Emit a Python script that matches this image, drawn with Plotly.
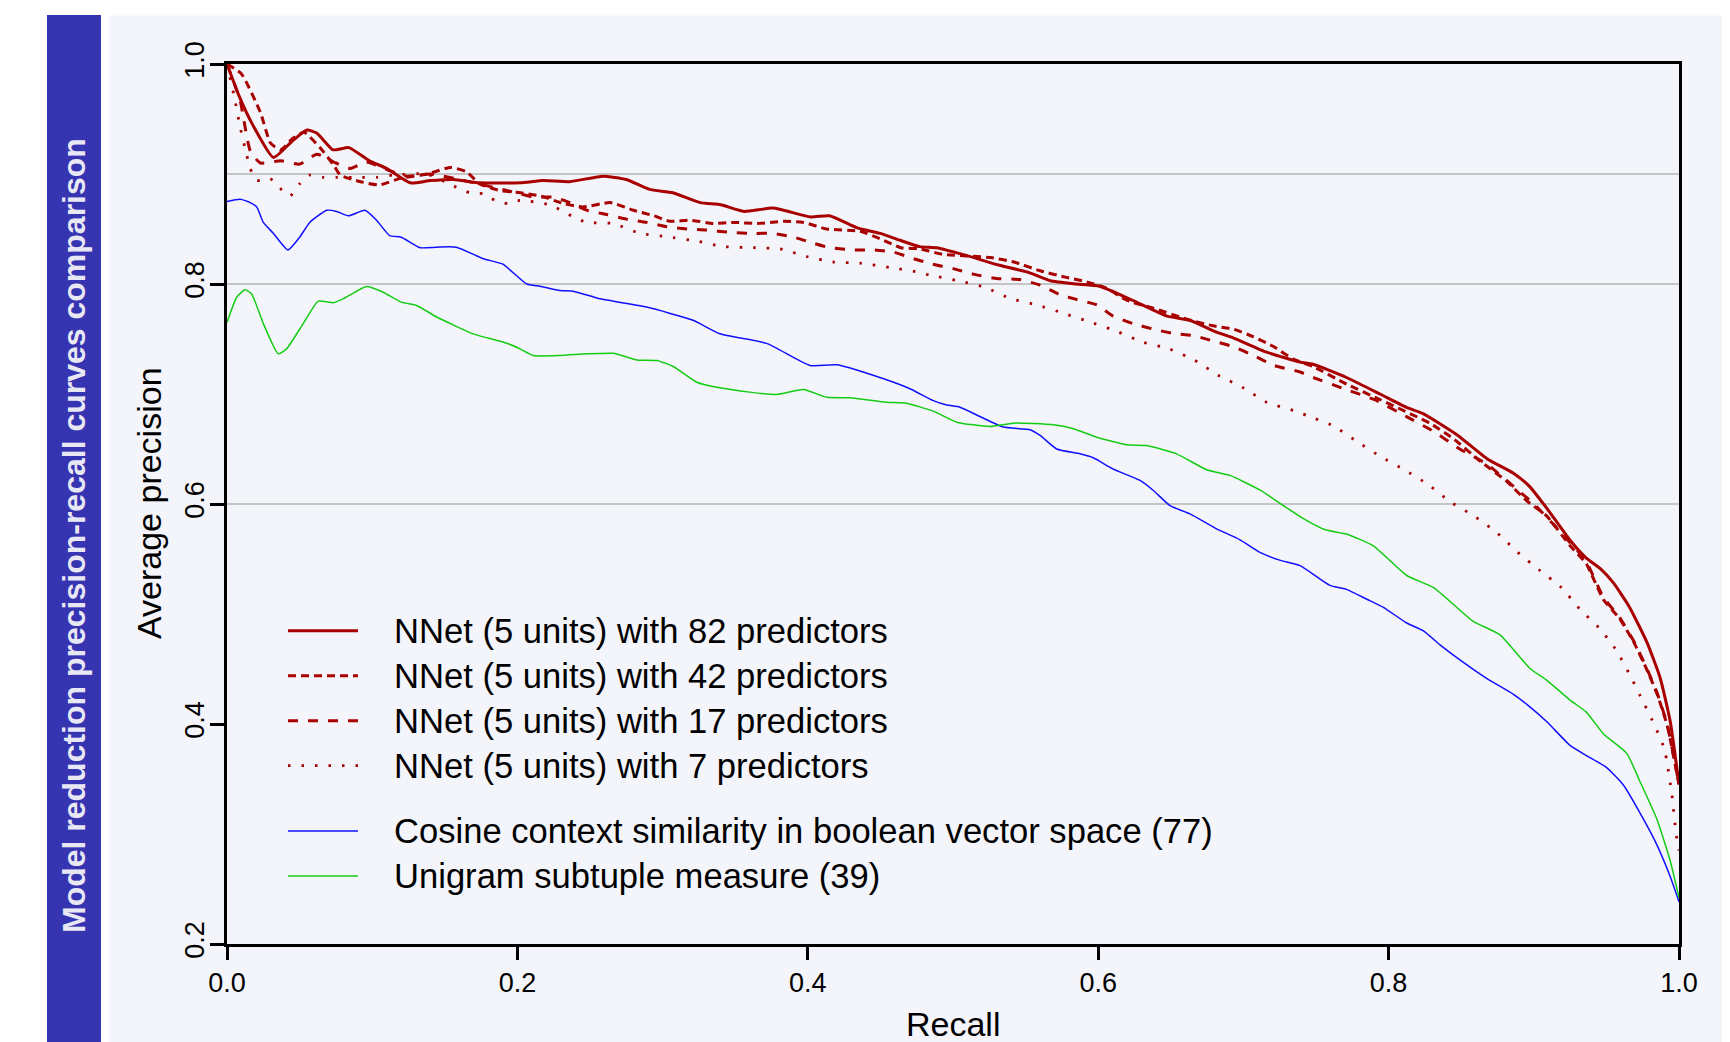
import plotly.graph_objects as go

# ---------------- data ----------------
recall_82 = [0.0, 0.008, 0.018, 0.032, 0.045, 0.055, 0.062, 0.073, 0.084, 0.098, 0.110, 0.126, 0.140, 0.156,
             0.174, 0.202, 0.218, 0.236, 0.259, 0.275, 0.291, 0.307, 0.326, 0.340, 0.356, 0.376, 0.402, 0.415,
             0.434, 0.450, 0.463, 0.477, 0.489, 0.509, 0.532, 0.551, 0.567, 0.585, 0.601, 0.624, 0.647, 0.663,
             0.682, 0.693, 0.716, 0.739, 0.748, 0.771, 0.794, 0.812, 0.824, 0.847, 0.868, 0.886, 0.897, 0.909,
             0.925, 0.936, 0.946, 0.955, 0.966, 0.978, 0.987, 0.994, 1.0]
prec_82 = [1.0, 0.972, 0.944, 0.915, 0.930, 0.940, 0.937, 0.922, 0.924, 0.912, 0.905, 0.892, 0.894, 0.895,
           0.892, 0.892, 0.894, 0.893, 0.898, 0.895, 0.886, 0.883, 0.874, 0.872, 0.866, 0.869, 0.861, 0.862,
           0.851, 0.846, 0.840, 0.834, 0.833, 0.826, 0.817, 0.811, 0.803, 0.800, 0.798, 0.785, 0.771, 0.767,
           0.756, 0.751, 0.738, 0.729, 0.727, 0.715, 0.700, 0.688, 0.682, 0.663, 0.641, 0.628, 0.616, 0.596,
           0.567, 0.551, 0.541, 0.528, 0.506, 0.474, 0.442, 0.402, 0.345]

recall_42 = [0.0, 0.010, 0.023, 0.030, 0.037, 0.045, 0.053, 0.064, 0.073, 0.078, 0.092, 0.105, 0.119, 0.138,
             0.154, 0.165, 0.174, 0.188, 0.202, 0.216, 0.232, 0.245, 0.264, 0.280, 0.294, 0.305, 0.319, 0.335,
             0.349, 0.365, 0.383, 0.397, 0.413, 0.436, 0.450, 0.464, 0.477, 0.493, 0.526, 0.542, 0.560, 0.578,
             0.592, 0.606, 0.620, 0.638, 0.661, 0.679, 0.693, 0.707, 0.721, 0.734, 0.748, 0.771, 0.794, 0.829,
             0.845, 0.863, 0.881, 0.895, 0.909, 0.925, 0.936, 0.948, 0.959, 0.969, 0.978, 0.985, 0.992, 1.0]
prec_42 = [1.0, 0.991, 0.956, 0.928, 0.922, 0.932, 0.938, 0.924, 0.909, 0.899, 0.893, 0.890, 0.896, 0.900,
           0.906, 0.902, 0.891, 0.885, 0.883, 0.880, 0.873, 0.870, 0.874, 0.867, 0.862, 0.857, 0.858, 0.855,
           0.856, 0.855, 0.857, 0.856, 0.850, 0.848, 0.841, 0.833, 0.832, 0.827, 0.824, 0.820, 0.812, 0.806,
           0.802, 0.796, 0.785, 0.778, 0.768, 0.762, 0.759, 0.752, 0.743, 0.732, 0.725, 0.709, 0.695, 0.673,
           0.659, 0.639, 0.621, 0.603, 0.589, 0.562, 0.546, 0.513, 0.496, 0.474, 0.449, 0.427, 0.398, 0.345]

recall_17 = [0.0, 0.009, 0.016, 0.023, 0.037, 0.050, 0.062, 0.075, 0.085, 0.096, 0.112, 0.124, 0.140, 0.160,
             0.180, 0.196, 0.211, 0.225, 0.236, 0.248, 0.262, 0.275, 0.289, 0.303, 0.317, 0.330, 0.346, 0.363,
             0.376, 0.392, 0.404, 0.415, 0.431, 0.445, 0.459, 0.473, 0.486, 0.500, 0.514, 0.530, 0.546, 0.560,
             0.574, 0.585, 0.599, 0.610, 0.624, 0.638, 0.652, 0.666, 0.677, 0.693, 0.707, 0.721, 0.739, 0.748,
             0.771, 0.790, 0.813, 0.831, 0.849, 0.868, 0.886, 0.900, 0.916, 0.927, 0.936, 0.948, 0.959, 0.969,
             0.978, 0.985, 0.992, 1.0]
prec_17 = [1.0, 0.967, 0.921, 0.910, 0.912, 0.909, 0.918, 0.910, 0.905, 0.911, 0.903, 0.898, 0.900, 0.895,
           0.889, 0.884, 0.879, 0.879, 0.874, 0.867, 0.863, 0.859, 0.856, 0.852, 0.850, 0.849, 0.847, 0.846,
           0.846, 0.842, 0.837, 0.833, 0.831, 0.831, 0.829, 0.823, 0.818, 0.814, 0.809, 0.805, 0.804, 0.799,
           0.790, 0.786, 0.781, 0.771, 0.764, 0.759, 0.755, 0.753, 0.749, 0.743, 0.735, 0.726, 0.720, 0.715,
           0.704, 0.695, 0.679, 0.666, 0.650, 0.636, 0.616, 0.600, 0.578, 0.562, 0.548, 0.515, 0.497, 0.475,
           0.450, 0.428, 0.399, 0.345]

recall_7 = [0.0, 0.0055, 0.009, 0.0136, 0.016, 0.0205, 0.0296, 0.0365, 0.0434, 0.050, 0.057, 0.066, 0.0755,
            0.090, 0.103, 0.1145, 0.1375, 0.158, 0.167, 0.1765, 0.1846, 0.1937, 0.2018, 0.2225, 0.2385, 0.2477,
            0.266, 0.2844, 0.3028, 0.3235, 0.3418, 0.3625, 0.381, 0.399, 0.4176, 0.436, 0.4566, 0.475, 0.484,
            0.5037, 0.522, 0.539, 0.5576, 0.577, 0.5955, 0.6127, 0.631, 0.649, 0.6667, 0.6827, 0.700, 0.716,
            0.7344, 0.7436, 0.762, 0.778, 0.794, 0.811, 0.8274, 0.843, 0.859, 0.8745, 0.889, 0.9038, 0.919,
            0.932, 0.9456, 0.957, 0.966, 0.9754, 0.9835, 0.990, 0.995, 0.998, 1.0]
prec_7 = [1.0, 0.967, 0.943, 0.917, 0.905, 0.894, 0.896, 0.887, 0.880, 0.891, 0.899, 0.897, 0.897,
          0.897, 0.897, 0.899, 0.900, 0.888, 0.883, 0.882, 0.876, 0.873, 0.876, 0.872, 0.861, 0.856,
          0.855, 0.846, 0.843, 0.839, 0.834, 0.833, 0.832, 0.825, 0.820, 0.819, 0.815, 0.811, 0.808,
          0.803, 0.797, 0.787, 0.781, 0.773, 0.765, 0.757, 0.747, 0.741, 0.7305, 0.717, 0.7056, 0.6925,
          0.685, 0.6805, 0.671, 0.657, 0.6435, 0.631, 0.6176, 0.6015, 0.589, 0.574, 0.556, 0.540, 0.524,
          0.504, 0.4865, 0.4667, 0.445, 0.420, 0.398, 0.377, 0.337, 0.300, 0.285]

recall_cos = [0.0, 0.009, 0.016, 0.0205, 0.025, 0.032, 0.042, 0.050, 0.057, 0.0687, 0.0755, 0.0836, 0.095,
              0.103, 0.112, 0.120, 0.133, 0.1444, 0.158, 0.1765, 0.190, 0.2064, 0.2156, 0.2293, 0.2385, 0.257,
              0.289, 0.321, 0.3395, 0.3717, 0.4015, 0.420, 0.445, 0.470, 0.4864, 0.4957, 0.5048, 0.5186,
              0.5347, 0.553, 0.560, 0.5714, 0.5875, 0.5966, 0.610, 0.6288, 0.638, 0.6494, 0.6632, 0.6816,
              0.6977, 0.7114, 0.725, 0.739, 0.7597, 0.771, 0.785, 0.7964, 0.8125, 0.824, 0.8354, 0.8515,
              0.8675, 0.886, 0.895, 0.909, 0.925, 0.936, 0.950, 0.9617, 0.973, 0.9846, 0.9938, 1.0]
prec_cos = [0.875, 0.877, 0.874, 0.870, 0.856, 0.846, 0.831, 0.8425, 0.856, 0.867, 0.866, 0.862, 0.867,
            0.858, 0.844, 0.8425, 0.833, 0.8335, 0.8335, 0.823, 0.818, 0.800, 0.798, 0.794, 0.7935, 0.7865,
            0.779, 0.767, 0.7547, 0.746, 0.726, 0.7265, 0.717, 0.705, 0.694, 0.690, 0.688, 0.6795,
            0.670, 0.6675, 0.6623, 0.650, 0.6456, 0.642, 0.632, 0.6214, 0.6123, 0.5986, 0.591, 0.5774,
            0.5674, 0.556, 0.549, 0.544, 0.526, 0.5224, 0.5134, 0.506, 0.4918, 0.4846, 0.472, 0.456,
            0.4415, 0.427, 0.418, 0.402, 0.3805, 0.3715, 0.3606, 0.3445, 0.3194, 0.2906, 0.2618, 0.2385]

recall_uni = [0.0, 0.0067, 0.0124, 0.017, 0.025, 0.0353, 0.041, 0.0525, 0.0629, 0.0732, 0.080, 0.0962, 0.1076,
              0.120, 0.1306, 0.1444, 0.1696, 0.1926, 0.2018, 0.211, 0.2293, 0.2477, 0.266, 0.282, 0.296,
              0.3074, 0.3235, 0.3395, 0.360, 0.3786, 0.397, 0.413, 0.429, 0.4543, 0.468, 0.4864, 0.5025,
              0.5255, 0.5415, 0.569, 0.583, 0.599, 0.6196, 0.6334, 0.654, 0.6747, 0.6907, 0.711, 0.7275,
              0.741, 0.757, 0.771, 0.7895, 0.8125, 0.831, 0.858, 0.8767, 0.8974, 0.909, 0.925, 0.936, 0.948,
              0.964, 0.973, 0.9846, 0.9938, 1.0]
prec_uni = [0.765, 0.788, 0.7947, 0.791, 0.764, 0.7365, 0.741, 0.764, 0.7844, 0.783, 0.7865, 0.7977, 0.7925,
            0.7835, 0.7805, 0.770, 0.7547, 0.7462, 0.741, 0.735, 0.735, 0.7365, 0.737, 0.731, 0.7305,
            0.725, 0.7107, 0.7056, 0.7017, 0.6995, 0.704, 0.697, 0.6965, 0.6925, 0.6916, 0.6844, 0.6744,
            0.6705, 0.6735, 0.672, 0.6684, 0.6607, 0.6538, 0.6532, 0.6456, 0.6311, 0.626, 0.613, 0.5986,
            0.587, 0.5763, 0.5727, 0.562, 0.535, 0.524, 0.4936, 0.4811, 0.4505, 0.4397, 0.4217, 0.411, 0.391,
            0.3733, 0.348, 0.314, 0.2763, 0.242]

series_names = ["NNet (5 units) with 82 predictors",
                "NNet (5 units) with 42 predictors",
                "NNet (5 units) with 17 predictors",
                "NNet (5 units) with 7 predictors",
                "Cosine context similarity in boolean vector space (77)",
                "Unigram subtuple measure (39)"]

x_ticks = [0.0, 0.2, 0.4, 0.6, 0.8, 1.0]
y_ticks = [0.2, 0.4, 0.6, 0.8, 1.0]
grid_levels = [0.6, 0.8, 0.9]

title_text = "Model reduction precision-recall curves comparison"
x_title = "Recall"
y_title = "Average precision"

# ---------------- styles ----------------
RED = "#a80000"
BLUE = "#1010ff"
GREEN = "#14cc14"
FONT = "Liberation Sans, Arial, Helvetica, sans-serif"

styles = [
    dict(color=RED, width=3.0, dash="solid"),
    dict(color=RED, width=3.0, dash="8px,5px"),
    dict(color=RED, width=3.0, dash="10px,10px"),
    dict(color=RED, width=2.8, dash="2.5px,11px"),
    dict(color=BLUE, width=1.5, dash="solid"),
    dict(color=GREEN, width=1.5, dash="solid"),
]

series = [(recall_82, prec_82), (recall_42, prec_42), (recall_17, prec_17),
          (recall_7, prec_7), (recall_cos, prec_cos), (recall_uni, prec_uni)]

fig = go.Figure()
order = [4, 5, 3, 2, 1, 0]
for i in order:
    xs, ys = series[i]
    fig.add_trace(go.Scatter(x=xs, y=ys, mode="lines", name=series_names[i],
                             line=dict(shape="spline", smoothing=0.5, **styles[i]),
                             showlegend=False, hoverinfo="skip"))

# page is rendered with an 8px body margin: figure coordinates = page coordinates - 8
OFF = 8
W, H = 1722, 1034
ML, MR, MT, MB = 219, 51, 56, 98
PW, PH = W - ML - MR, H - MT - MB


def px(Xpage):
    return (Xpage - OFF - ML) / PW


def py(Ypage):
    return (H - MB - (Ypage - OFF)) / PH


shapes = []
shapes.append(dict(type="rect", xref="paper", yref="paper", x0=px(109), x1=px(1740), y0=py(1100), y1=py(15.5),
                   fillcolor="#f4f5fa", line=dict(width=0), layer="below"))
shapes.append(dict(type="rect", xref="paper", yref="paper", x0=px(47), x1=px(101), y0=py(1100), y1=py(15),
                   fillcolor="#3734b1", line=dict(width=0), layer="below"))
for g in grid_levels:
    shapes.append(dict(type="line", xref="x", yref="y", x0=0, x1=1, y0=g, y1=g,
                       line=dict(color="#b4b4b4", width=1.5), layer="below"))

annotations = []
legend_rows_y = [630.7, 675.7, 720.7, 765.7, 831, 876]
for i, Yr in enumerate(legend_rows_y):
    st = styles[i]
    shapes.append(dict(type="line", xref="paper", yref="paper", x0=px(288), x1=px(358), y0=py(Yr), y1=py(Yr),
                       line=dict(color=st["color"], width=st["width"], dash=st["dash"])))
    annotations.append(dict(xref="paper", yref="paper", x=px(392), y=py(Yr), text=series_names[i],
                            showarrow=False, xanchor="left", yanchor="middle",
                            font=dict(family=FONT, size=34.6, color="black")))

annotations.append(dict(xref="paper", yref="paper", x=px(74), y=py(536), text="<b>" + title_text + "</b>",
                        showarrow=False, textangle=-90, xanchor="center", yanchor="middle",
                        font=dict(family=FONT, size=32, color="#e8e8f4")))
annotations.append(dict(xref="paper", yref="paper", x=px(149), y=py(503), text=y_title, showarrow=False,
                        textangle=-90, xanchor="center", yanchor="middle",
                        font=dict(family=FONT, size=34, color="black")))
annotations.append(dict(xref="paper", yref="paper", x=px(953), y=py(1024), text=x_title, showarrow=False,
                        xanchor="center", yanchor="middle",
                        font=dict(family=FONT, size=34, color="black")))

fig.update_layout(
    width=W, height=H,
    margin=dict(l=ML, r=MR, t=MT, b=MB, pad=0),
    paper_bgcolor="white",
    plot_bgcolor="rgba(0,0,0,0)",
    shapes=shapes,
    annotations=annotations,
    showlegend=False,
    xaxis=dict(range=[0, 1], tickvals=x_ticks, ticktext=[f"{v:.1f}" for v in x_ticks],
               showgrid=False, zeroline=False, showline=True, mirror=True, linecolor="black", linewidth=2.5,
               ticks="outside", ticklen=13, tickwidth=2.5, tickcolor="black",
               tickfont=dict(family=FONT, size=27, color="black")),
    yaxis=dict(range=[0.2, 1.0], tickvals=y_ticks, ticktext=[f"{v:.1f}" for v in y_ticks],
               showgrid=False, zeroline=False, showline=True, mirror=True, linecolor="black", linewidth=2.5,
               ticks="outside", ticklen=14, tickwidth=2.5, tickcolor="black", tickangle=-90,
               ticklabelstandoff=-5,
               tickfont=dict(family=FONT, size=27, color="black")),
)

fig.write_html("out.html")
